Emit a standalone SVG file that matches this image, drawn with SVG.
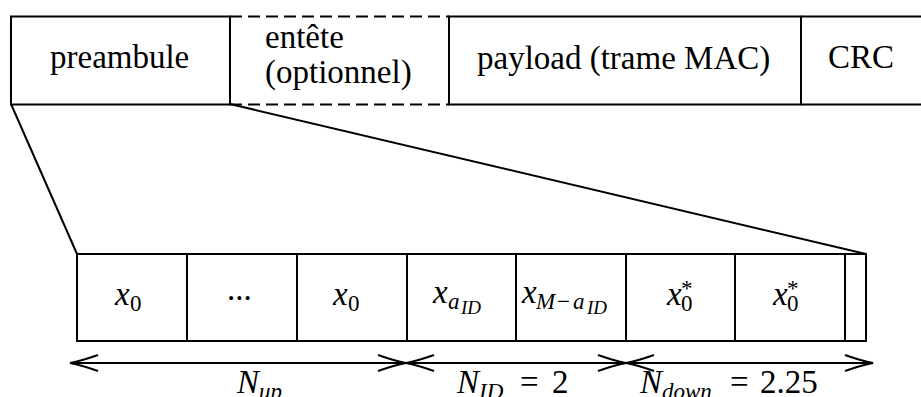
<svg xmlns="http://www.w3.org/2000/svg" width="921" height="397" viewBox="0 0 921 397">
<style>
.b{fill:#fff;stroke:#000;stroke-width:2}
.d{fill:none;stroke:#000;stroke-width:2;stroke-dasharray:12,6}
.l{fill:none;stroke:#000;stroke-width:2}
text{font-family:"Liberation Serif","DejaVu Serif",serif;font-size:33px;fill:#000}
.i{font-style:italic}
.s{font-size:23px}
.ss{font-size:19px}
</style>
<defs>
<marker id="ah" viewBox="0 0 30 20" refX="29" refY="10" markerWidth="30" markerHeight="20" markerUnits="userSpaceOnUse" orient="auto-start-reverse">
<path d="M1,2 Q18,8 29,10 Q18,12 1,18" fill="none" stroke="#000" stroke-width="2"/>
</marker>
</defs>
<g id="connectors">
<line class="l" x1="11" y1="104" x2="77" y2="254"/>
<line class="l" x1="230" y1="104" x2="866" y2="254"/>
<line class="l" x1="70" y1="363" x2="406" y2="363" marker-start="url(#ah)" marker-end="url(#ah)"/>
<line class="l" x1="406" y1="363" x2="626" y2="363" marker-start="url(#ah)" marker-end="url(#ah)"/>
<line class="l" x1="626" y1="363" x2="873" y2="363" marker-start="url(#ah)" marker-end="url(#ah)"/>
</g>
<g id="preambule"><rect class="b" x="11" y="16.5" width="219" height="88"/><text x="50" y="68">preambule</text></g>
<g id="entete"><path class="d" d="M230,16.5 H449 M230,104.5 H449"/><text x="265" y="48">entête</text><text x="265" y="83">(optionnel)</text></g>
<g id="payload"><rect class="b" x="449" y="16.5" width="352" height="88"/><text x="477" y="69">payload (trame MAC)</text></g>
<g id="crc"><path class="l" d="M801,16.5 H925 M801,104.5 H925 M801,16.5 V104.5"/><text x="828" y="68">CRC</text></g>
<g id="c1"><rect class="b" x="77" y="254" width="110" height="87"/><text x="115" y="305" class="i">x</text><text x="130" y="311" class="s">0</text></g>
<g id="c2"><rect class="b" x="187" y="254" width="110" height="87"/><text x="227" y="300">...</text></g>
<g id="c3"><rect class="b" x="297" y="254" width="110" height="87"/><text x="333" y="305" class="i">x</text><text x="348" y="311" class="s">0</text></g>
<g id="c4"><rect class="b" x="407" y="254" width="109" height="87"/><text x="433" y="303" class="i">x</text><text x="448" y="309" class="s i">a</text><text x="461" y="314" class="ss i">ID</text></g>
<g id="c5"><rect class="b" x="516" y="254" width="110" height="87"/><text x="522" y="303" class="i">x</text><text x="536" y="309" class="s i">M</text><text x="557" y="309" class="s">−</text><text x="573" y="309" class="s i">a</text><text x="587" y="314" class="ss i">ID</text></g>
<g id="c6"><rect class="b" x="626" y="254" width="109" height="87"/><text x="667" y="305" class="i">x</text><text x="681" y="296" class="s">*</text><text x="681" y="311" class="s">0</text></g>
<g id="c7"><rect class="b" x="735" y="254" width="110" height="87"/><text x="773" y="305" class="i">x</text><text x="787" y="296" class="s">*</text><text x="787" y="311" class="s">0</text></g>
<g id="c8"><rect class="b" x="845" y="254" width="21" height="87"/></g>
<g id="labels">
<text x="237" y="393" class="i">N</text><text x="259" y="399" class="s i">up</text>
<text x="457" y="393" class="i">N</text><text x="479" y="399" class="s i">ID</text><text x="520" y="393">=</text><text x="552" y="393">2</text>
<text x="640" y="393" class="i">N</text><text x="662" y="399" class="s i">down</text><text x="730" y="393">=</text><text x="760" y="393">2.25</text>
</g>
</svg>
